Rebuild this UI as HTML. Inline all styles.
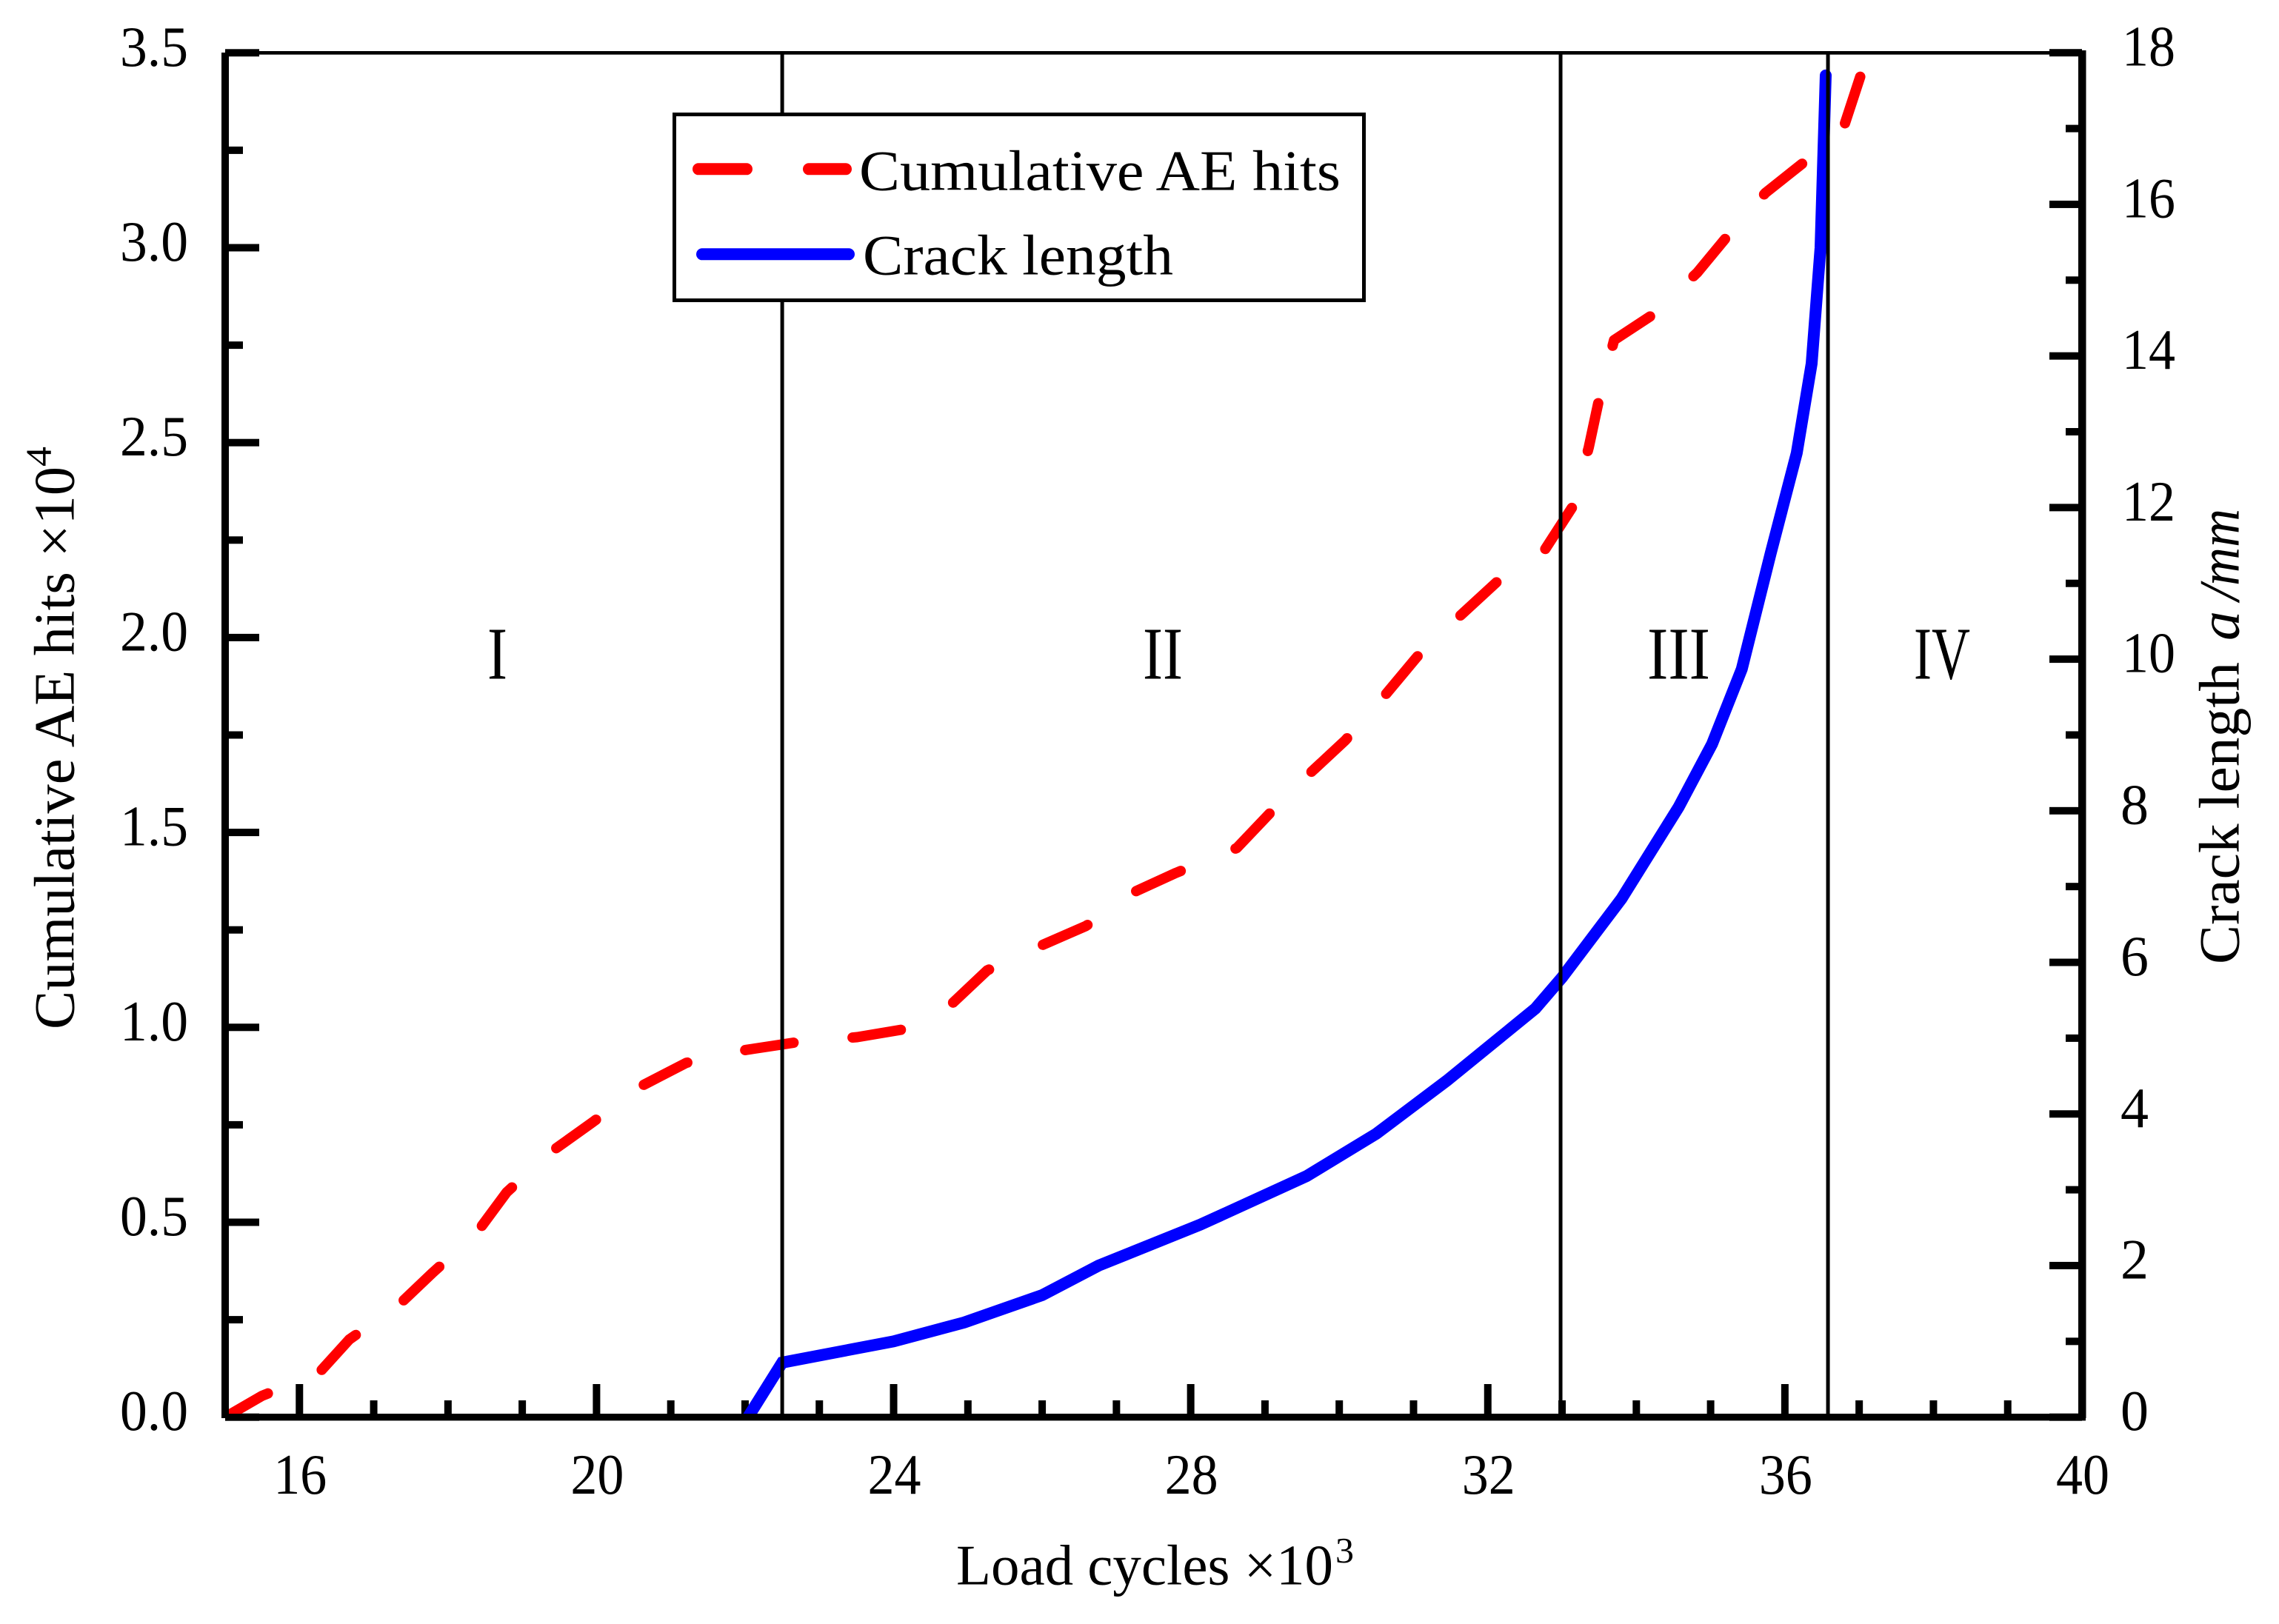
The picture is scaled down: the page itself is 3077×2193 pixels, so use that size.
<!DOCTYPE html>
<html lang="en">
<head>
<meta charset="utf-8">
<title>Cumulative AE hits and crack length vs load cycles</title>
<style>
html,body{margin:0;padding:0;background:#fff;}
svg{display:block;}
text{font-family:"Liberation Serif","Noto Serif CJK SC",serif;fill:#000;}
</style>
</head>
<body>
<svg id="chart" xmlns="http://www.w3.org/2000/svg" width="3077" height="2193" viewBox="0 0 3077 2193">
  <rect x="0" y="0" width="3077" height="2193" fill="#fff"/>
  <defs>
    <clipPath id="plot-clip"><rect x="304" y="66" width="2507" height="1848"/></clipPath>
  </defs>
  <g id="ticks"></g>
  <g id="series" clip-path="url(#plot-clip)"></g>
  <g id="phase-lines"></g>
  <g id="spines">
    <rect x="304" y="69" width="2507" height="4.7" fill="#000"/>
    <rect x="299" y="71" width="10" height="1844" fill="#000"/>
    <rect x="2806" y="68" width="10.5" height="1847" fill="#000"/>
    <rect x="304" y="1909" width="2512" height="9.4" fill="#000"/>
  </g>
  <g id="tick-labels" font-size="77"></g>

  <g>
    <text x="1291" y="2139.3" font-size="77" textLength="509" lengthAdjust="spacingAndGlyphs">Load cycles ×10</text>
    <text x="1803" y="2110" font-size="49" textLength="25" lengthAdjust="spacingAndGlyphs">3</text>
  </g>
  <g transform="translate(99.3,1390) rotate(-90)">
    <text x="0" y="0" font-size="77" textLength="760" lengthAdjust="spacingAndGlyphs">Cumulative AE hits ×10</text>
    <text x="760" y="-31" font-size="49" textLength="27" lengthAdjust="spacingAndGlyphs">4</text>
  </g>
  <g transform="translate(3022.7,1302) rotate(-90)">
    <text x="0" y="0" font-size="77" textLength="408" lengthAdjust="spacingAndGlyphs">Crack length</text>
    <text x="437" y="0" font-size="77" font-style="italic" textLength="40" lengthAdjust="spacingAndGlyphs">a</text>
    <text x="491" y="0" font-size="77" font-style="italic" textLength="21" lengthAdjust="spacingAndGlyphs">/</text>
    <text x="511" y="0" font-size="77" font-style="italic" textLength="104" lengthAdjust="spacingAndGlyphs">mm</text>
  </g>

  <g font-size="101">
    <text x="658" y="916.7" textLength="27" lengthAdjust="spacingAndGlyphs">I</text>
    <text x="1543" y="916.7" textLength="54" lengthAdjust="spacingAndGlyphs">II</text>
    <text x="2224" y="916.7" textLength="85" lengthAdjust="spacingAndGlyphs">III</text>
    <text x="2584" y="916.7" textLength="76" lengthAdjust="spacingAndGlyphs">IV</text>
  </g>

  <g>
    <rect x="910.5" y="154.5" width="931" height="251" fill="#fff" stroke="#000" stroke-width="5"/>
    <line x1="943" y1="228.3" x2="1142" y2="228.3" stroke="#f00" stroke-width="16" stroke-linecap="round" stroke-dasharray="65 84"/>
    <text x="1160" y="256.7" font-size="77" textLength="650" lengthAdjust="spacingAndGlyphs">Cumulative AE hits</text>
    <line x1="948" y1="343.3" x2="1146" y2="343.3" stroke="#00f" stroke-width="16" stroke-linecap="round"/>
    <text x="1165" y="370.7" font-size="77" textLength="419" lengthAdjust="spacingAndGlyphs">Crack length</text>
  </g>
</svg>
<script>
const xTickValues = [16, 20, 24, 28, 32, 36, 40];
const leftTickValues = ['0.0', '0.5', '1.0', '1.5', '2.0', '2.5', '3.0', '3.5'];
const rightTickValues = ['0', '2', '4', '6', '8', '10', '12', '14', '16', '18'];
const phaseBoundaries = [22.5, 32.98, 36.58];

const aeCycles = [15.00, 15.50, 16.26, 16.67, 17.35, 17.79, 18.38, 18.79, 19.37, 19.95, 20.58, 21.21, 22.01, 22.67, 23.51, 24.14, 24.77, 25.26, 26.00, 26.59, 27.27, 27.80, 28.62, 29.06, 29.60, 30.08, 30.62, 31.05, 31.60, 32.13, 32.77, 33.15, 33.36, 33.50, 33.70, 34.22, 34.82, 35.21, 35.74, 36.25, 36.80, 37.02];
const aeHits = [0.000, 0.055, 0.113, 0.199, 0.290, 0.370, 0.471, 0.577, 0.678, 0.757, 0.847, 0.909, 0.942, 0.961, 0.975, 0.995, 1.058, 1.146, 1.211, 1.260, 1.350, 1.396, 1.460, 1.548, 1.651, 1.736, 1.853, 1.951, 2.051, 2.144, 2.226, 2.338, 2.488, 2.613, 2.763, 2.828, 2.936, 3.026, 3.141, 3.218, 3.314, 3.442];

const crackCycles = [22.04, 22.50, 24.00, 24.95, 26.00, 26.76, 28.13, 29.56, 30.50, 31.45, 32.64, 33.00, 33.80, 34.57, 35.02, 35.42, 35.81, 36.16, 36.36, 36.48, 36.55];
const crackLength = [0.00, 0.72, 1.00, 1.25, 1.61, 2.00, 2.54, 3.18, 3.74, 4.44, 5.39, 5.80, 6.84, 8.05, 8.88, 9.87, 11.40, 12.72, 13.90, 15.43, 17.70];

const NS = 'http://www.w3.org/2000/svg';
const xAxis = v => 304 + (v - 15) * 100.28;
const yLeft = v => 1913.7 - v * 526.4;
const yRight = v => 1913.7 - v * 102.36;

function make(tag, parent, attrs) {
  const el = document.createElementNS(NS, tag);
  for (const k in attrs) el.setAttribute(k, attrs[k]);
  parent.appendChild(el);
  return el;
}

const ticks = document.getElementById('ticks');
const labels = document.getElementById('tick-labels');
const series = document.getElementById('series');
const phases = document.getElementById('phase-lines');

for (let v = 16; v <= 39; v++) {
  const major = (v % 4 === 0);
  const t = make('rect', ticks, { x: xAxis(v) - 5, y: major ? 1869 : 1891, width: 10, height: major ? 45 : 23, fill: '#000' });
  
  
}
for (let i = 0; i <= 14; i++) {
  const major = (i % 2 === 0);
  const y = yLeft(i * 0.25);
  const t = make('rect', ticks, { x: 304, y: y - 5, width: major ? 46 : 24, height: 10, fill: '#000' });
  
  
}
for (let v = 0; v <= 18; v++) {
  const major = (v % 2 === 0);
  const w = major ? 44 : 22;
  const t = make('rect', ticks, { x: 2811 - w, y: yRight(v) - 5, width: w, height: 10, fill: '#000' });
  
  
}

xTickValues.forEach(v => {
  const t = make('text', labels, { x: xAxis(v) - 35, y: 2017, textLength: 72, lengthAdjust: 'spacingAndGlyphs' });
  t.textContent = String(v);
  
  
});
leftTickValues.forEach(s => {
  const t = make('text', labels, { x: 162, y: yLeft(parseFloat(s)) + 17.5, textLength: 92, lengthAdjust: 'spacingAndGlyphs' });
  t.textContent = s;
  
  
});
rightTickValues.forEach(s => {
  const t = make('text', labels, { x: s.length > 1 ? 2865 : 2863, y: yRight(parseFloat(s)) + 17.5, textLength: s.length > 1 ? 72 : 38, lengthAdjust: 'spacingAndGlyphs' });
  t.textContent = s;
  
  
});

const toPoints = (xs, ys, yf) => xs.map((x, i) => xAxis(x).toFixed(1) + ',' + yf(ys[i]).toFixed(1)).join(' ');

const crackLine = make('polyline', series, {
  points: toPoints(crackCycles, crackLength, yRight),
  fill: 'none', stroke: '#00f', 'stroke-width': 16, 'stroke-linecap': 'round', 'stroke-linejoin': 'miter'
});



const aeLine = make('polyline', series, {
  points: toPoints(aeCycles, aeHits, yLeft),
  fill: 'none', stroke: '#f00', 'stroke-width': 14, 'stroke-linecap': 'round', 'stroke-linejoin': 'round',
  'stroke-dasharray': '66 80'
});



phaseBoundaries.forEach(v => {
  const l = make('line', phases, { x1: xAxis(v), x2: xAxis(v), y1: 71, y2: 1912, stroke: '#000', 'stroke-width': 5 });
  
  
});
</script>
</body>
</html>
